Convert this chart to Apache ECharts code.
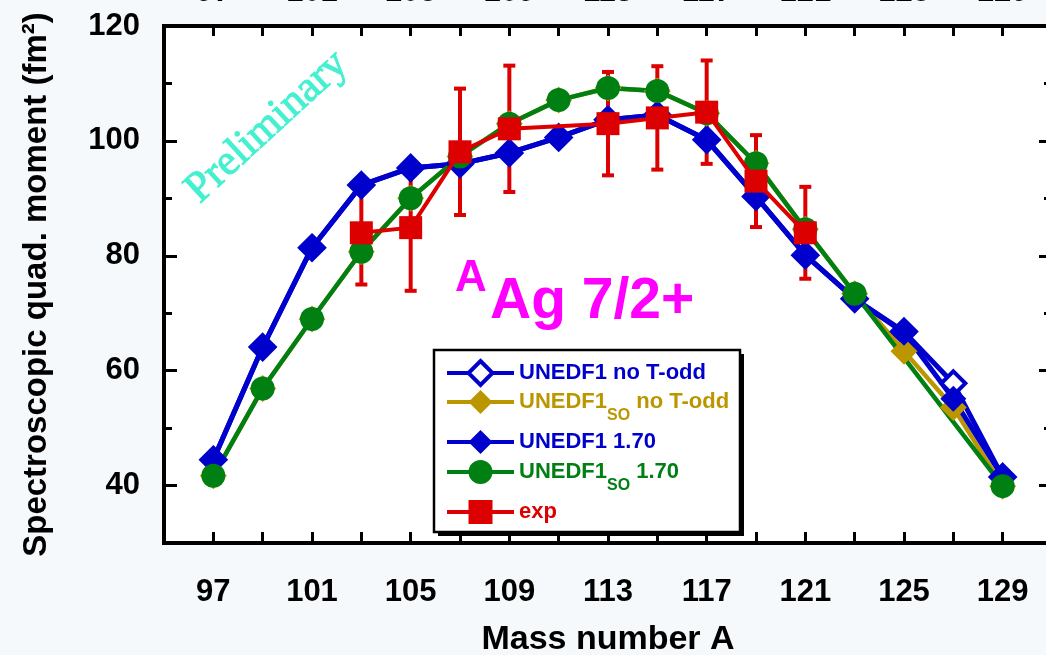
<!DOCTYPE html>
<html><head><meta charset="utf-8">
<script src="https://cdn.jsdelivr.net/npm/echarts@6/dist/echarts.min.js"></script>
<style>html,body{margin:0;padding:0;background:#f5f9fb}#c{width:1046px;height:655px}</style>
</head><body><div id="c"></div>
<script>
// ---- data ----
const masses = [97,99,101,103,105,107,109,111,113,115,117,119,121,123,125,127,129];
const unedf1NoTodd   = [44.5,64.1,81.4,92.3,95.3,96.0,97.9,100.6,103.7,104.5,100.2,90.3,80.1,72.5,66.8,57.8,41.5];
const unedf1soNoTodd = [41.7,56.9,69.0,80.7,90.0,97.3,103.0,107.1,109.2,108.7,104.8,96.1,84.6,73.4,63.4,53.6,39.9];
const unedf1_170     = [44.5,64.1,81.4,92.3,95.3,96.0,97.9,100.6,103.7,104.5,100.2,90.3,80.1,72.5,66.6,55.1,41.5];
const unedf1so_170   = [41.7,56.9,69.0,80.7,90.0,97.3,103.0,107.1,109.2,108.7,104.8,96.1,84.6,73.4,null,null,39.9];
const expMasses = [103,105,107,109,113,115,117,119,121];
const expValues = [84.0,84.9,98.1,102.1,103.0,104.0,105.0,93.0,84.0];
const expErrors = [9,11,11,11,9,9,9,8,8];
const xTickLabels = [97,101,105,109,113,117,121,125,129];
const yTickLabels = [40,60,80,100,120];

const BLUE = '#0000cc', GOLD = '#bb9600', GREEN = '#007f12', RED = '#dd0000';
const FF = "'Liberation Sans', Arial, Helvetica, sans-serif";

const pairs = arr => masses.map((m, i) => [m, arr[i]]);
const xFmt = v => xTickLabels.indexOf(v) >= 0 ? String(v) : '';
const yFmt = v => yTickLabels.indexOf(v) >= 0 ? String(v) : '';

const axisLine = {show: true, lineStyle: {color: '#000', width: 4, cap: 'square'}};
const labelStyle = {fontSize: 31, fontWeight: 'bold', color: '#000', fontFamily: FF};

function xAxis(pos, tickLen, margin, extra) {
  return Object.assign({
    type: 'value', position: pos, min: 95, max: 131, interval: 2,
    axisLine: axisLine,
    axisTick: {show: true, inside: true, length: tickLen, lineStyle: {color: '#000', width: 3}},
    axisLabel: Object.assign({formatter: xFmt, margin: margin}, labelStyle),
    splitLine: {show: false}
  }, extra || {});
}
function yAxis(pos, major, extra) {
  const o = {
    type: 'value', position: pos, min: 30, max: 120,
    axisLine: axisLine,
    axisTick: {show: true, inside: true, length: major ? 13 : 8, lineStyle: {color: '#000', width: 3}},
    axisLabel: {show: false},
    splitLine: {show: false}
  };
  if (!major) o.interval = 10;
  return Object.assign(o, extra || {});
}

const legendRows = [
  {name: 'UNEDF1 no T-odd',    color: BLUE,  top: 358, sub: false, bw: 4},
  {name: 'UNEDF1_SO no T-odd', color: GOLD,  top: 380, sub: true,  bw: 0},
  {name: 'UNEDF1 1.70',        color: BLUE,  top: 427, sub: false, bw: 0},
  {name: 'UNEDF1_SO 1.70',     color: GREEN, top: 450, sub: true,  bw: 0},
  {name: 'exp',                color: RED,   top: 497, sub: false, bw: 0}
];
const legends = legendRows.map(r => ({
  data: [r.name], left: 445, top: r.top, padding: 0, z: 20,
  itemWidth: 67, itemHeight: 30, selectedMode: false,
  lineStyle: {width: 4},
  itemStyle: {borderWidth: r.bw},
  formatter: n => n.replace('_SO', '{s|SO}'),
  textStyle: {
    color: r.color, fontSize: 22, fontWeight: 'bold', fontFamily: FF,
    lineHeight: r.sub ? 44 : 30,
    rich: {s: {color: r.color, fontSize: 16, fontWeight: 'bold', fontFamily: FF,
               verticalAlign: 'bottom', lineHeight: 18}}
  }
}));

const option = {
  animation: false,
  backgroundColor: '#f5f9fb',
  grid: {left: 164, top: 26, width: 888, height: 517, show: true, backgroundColor: '#fff', borderWidth: 0,
         containLabel: false, outerBoundsMode: 'none'},
  xAxis: [
    xAxis('bottom', 11, 34, {
      name: 'Mass number A', nameLocation: 'middle', nameGap: 80,
      nameTextStyle: {fontSize: 34, fontWeight: 'bold', color: '#000', fontFamily: FF}
    }),
    xAxis('top', 10, 18)
  ],
  yAxis: [
    yAxis('left', false),
    yAxis('left', true, {
      axisLabel: Object.assign({show: true, formatter: yFmt, margin: 24}, labelStyle),
      name: 'Spectroscopic quad. moment (fm²)', nameLocation: 'middle', nameGap: 111,
      nameTextStyle: {fontSize: 33, fontWeight: 'bold', color: '#000', fontFamily: FF}
    }),
    yAxis('right', false),
    yAxis('right', true)
  ],
  legend: legends,
  graphic: [
    {type: 'rect', z: 9, shape: {x: 438, y: 354, width: 306, height: 182}, style: {fill: '#000'}},
    {type: 'rect', z: 10, shape: {x: 434, y: 350, width: 306, height: 182},
     style: {fill: '#fff', stroke: '#000', lineWidth: 2.5}},
    {type: 'text', z: 1, x: 267, y: 127, rotation: 42.5 * Math.PI / 180,
     style: {text: 'Preliminary', fill: '#44f0d0', stroke: '#44f0d0', lineWidth: 1,
             font: '43px "Liberation Serif", "Times New Roman", serif',
             textAlign: 'center', textVerticalAlign: 'middle'}},
    {type: 'text', z: 5, x: 455, y: 279,
     style: {text: 'A', fill: '#ff00ff', font: 'bold 44px ' + FF, textAlign: 'left', textVerticalAlign: 'middle'}},
    {type: 'text', z: 5, x: 490, y: 302,
     style: {text: 'Ag 7/2+', fill: '#ff00ff', font: 'bold 57px ' + FF, textAlign: 'left', textVerticalAlign: 'middle'}}
  ],
  series: [
    {name: 'UNEDF1 no T-odd', type: 'line', data: pairs(unedf1NoTodd), z: 2,
     symbol: 'diamond', symbolSize: 24,
     itemStyle: {color: '#fff', borderColor: BLUE, borderWidth: 4},
     lineStyle: {color: BLUE, width: 5}},
    {name: 'UNEDF1_SO no T-odd', type: 'line', data: pairs(unedf1soNoTodd), z: 2,
     symbol: 'diamond', symbolSize: 27, itemStyle: {color: GOLD}, lineStyle: {color: GOLD, width: 4.5}},
    {name: 'UNEDF1 1.70', type: 'line', data: pairs(unedf1_170), z: 2,
     symbol: 'diamond', symbolSize: 26, itemStyle: {color: BLUE}, lineStyle: {color: BLUE, width: 5}},
    {name: 'UNEDF1_SO 1.70', type: 'line', data: pairs(unedf1so_170), z: 2, connectNulls: true,
     symbol: 'circle', symbolSize: 24, itemStyle: {color: GREEN}, lineStyle: {color: GREEN, width: 4.5}},
    {name: 'exp-err', type: 'custom', z: 1,
     data: expMasses.map((m, i) => [m, expValues[i] - expErrors[i], expValues[i] + expErrors[i]]),
     encode: {x: 0, y: [1, 2]},
     renderItem: (params, api) => {
       const x = api.value(0);
       const lo = api.coord([x, api.value(1)]), hi = api.coord([x, api.value(2)]);
       const w = 6, st = {stroke: RED, lineWidth: 4};
       return {type: 'group', children: [
         {type: 'line', shape: {x1: lo[0], y1: lo[1], x2: hi[0], y2: hi[1]}, style: st},
         {type: 'line', shape: {x1: lo[0] - w, y1: lo[1], x2: lo[0] + w, y2: lo[1]}, style: st},
         {type: 'line', shape: {x1: hi[0] - w, y1: hi[1], x2: hi[0] + w, y2: hi[1]}, style: st}
       ]};
     }},
    {name: 'exp', type: 'line', data: expMasses.map((m, i) => [m, expValues[i]]), z: 3,
     symbol: 'rect', symbolSize: 23, itemStyle: {color: RED}, lineStyle: {color: RED, width: 4}}
  ]
};
const chart = echarts.init(document.getElementById('c'), null, {renderer: 'canvas'});
chart.setOption(option);
</script></body></html>
